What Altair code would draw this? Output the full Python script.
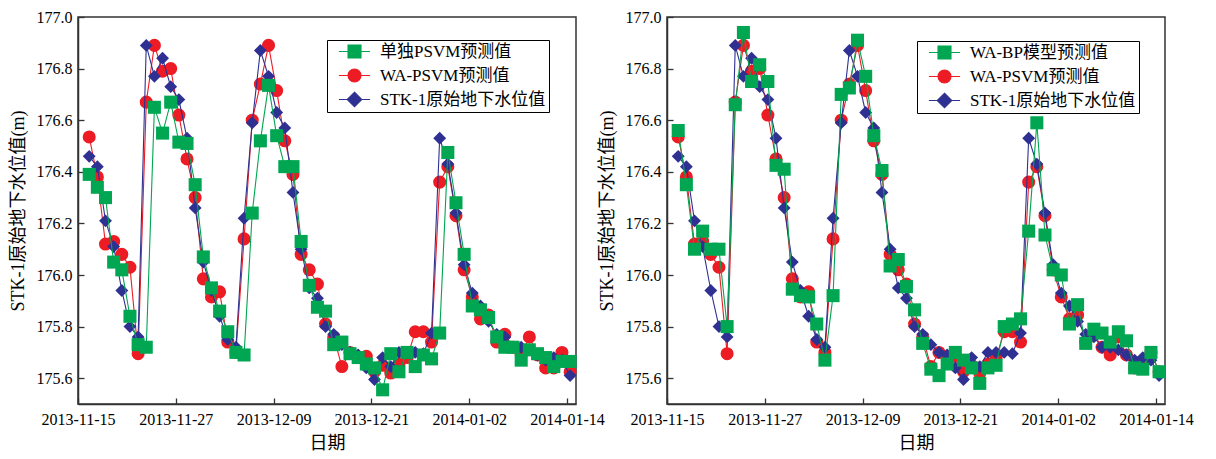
import altair as alt
import pandas as pd

# one reading per day, 2013-11-16 .. 2014-01-14
dates = pd.date_range("2013-11-16 09:00", periods=60, freq="D").strftime("%Y-%m-%dT%H:%M:%S").tolist()

observed = [176.46, 176.42, 176.21, 176.11, 175.94, 175.80, 175.76, 176.89, 176.77, 176.84,
            176.73, 176.68, 176.53, 176.26, 176.05, 175.94, 175.84, 175.75, 175.72, 176.22,
            176.59, 176.87, 176.77, 176.63, 176.57, 176.32, 176.10, 175.95, 175.91, 175.80,
            175.77, 175.73, 175.70, 175.69, 175.64, 175.595, 175.68, 175.645, 175.70, 175.70,
            175.70, 175.695, 175.775, 176.53, 176.43, 176.24, 176.04, 175.93, 175.88, 175.82,
            175.77, 175.76, 175.72, 175.72, 175.71, 175.69, 175.67, 175.68, 175.67, 175.61]

wa_psvm = [176.535, 176.38, 176.12, 176.13, 176.08, 176.03, 175.695, 176.67, 176.89, 176.79,
           176.80, 176.62, 176.45, 176.30, 175.985, 175.915, 175.935, 175.74, 175.70, 176.14,
           176.60, 176.74, 176.89, 176.715, 176.52, 176.39, 176.08, 176.02, 175.965, 175.81,
           175.76, 175.645, 175.70, 175.68, 175.685, 175.625, 175.65, 175.62, 175.655, 175.68,
           175.78, 175.78, 175.74, 176.36, 176.42, 176.23, 176.02, 175.915, 175.83, 175.845,
           175.74, 175.77, 175.72, 175.69, 175.76, 175.69, 175.64, 175.64, 175.70, 175.625]

psvm = [176.39, 176.34, 176.30, 176.05, 176.02, 175.84, 175.73, 175.72, 176.65, 176.55,
        176.67, 176.515, 176.51, 176.35, 176.07, 175.95, 175.86, 175.78, 175.70, 175.69,
        176.24, 176.52, 176.735, 176.54, 176.42, 176.42, 176.13, 175.96, 175.875, 175.86,
        175.73, 175.74, 175.695, 175.68, 175.655, 175.64, 175.555, 175.695, 175.625, 175.70,
        175.645, 175.69, 175.675, 175.775, 176.475, 176.28, 176.08, 175.88, 175.865, 175.835,
        175.76, 175.72, 175.72, 175.67, 175.71, 175.695, 175.68, 175.645, 175.665, 175.665]

wa_bp = [176.56, 176.35, 176.10, 176.17, 176.10, 176.10, 175.80, 176.66, 176.94, 176.75,
         176.815, 176.75, 176.425, 176.41, 175.945, 175.92, 175.915, 175.81, 175.67, 175.92,
         176.70, 176.725, 176.91, 176.77, 176.54, 176.405, 176.035, 176.06, 175.955, 175.865,
         175.735, 175.635, 175.61, 175.655, 175.70, 175.67, 175.64, 175.58, 175.64, 175.65,
         175.80, 175.81, 175.83, 176.17, 176.59, 176.155, 176.02, 176.00, 175.81, 175.885,
         175.735, 175.79, 175.775, 175.74, 175.78, 175.745, 175.64, 175.635, 175.70, 175.625]

name_obs = "STK-1原始地下水位值"
name_wa = "WA-PSVM预测值"
name_psvm = "单独PSVM预测值"
name_bp = "WA-BP模型预测值"

x_tick_labels = ["2013-11-15", "2013-11-27", "2013-12-09", "2013-12-21", "2014-01-02", "2014-01-14"]
y_ticks = [175.6, 175.8, 176.0, 176.2, 176.4, 176.6, 176.8, 177.0]

GREEN, RED, BLUE = "#00A651", "#ED1C24", "#2E3192"
FONT = "Liberation Serif, Noto Sans CJK SC"
W, H = 498, 387

# legend glyphs: a line segment with the marker on it (vega scales paths by sqrt(size)/2)
SQUARE_PATH = "M-2.4,0H2.4M-1,-1H1V1H-1Z"
CIRCLE_PATH = "M-2.4,0H2.4M1,0A1,1,0,1,1,-1,0A1,1,0,1,1,1,0Z"
DIAMOND_PATH = "M-2.4,0H2.4M0,-1.12L1.12,0L0,1.12L-1.12,0Z"


def dt(s, hours=0, minutes=0):
    y, m, d = map(int, s.split("-"))
    return alt.DateTime(year=y, month=m, date=d, hours=hours, minutes=minutes)


x_scale = alt.Scale(domain=[dt("2013-11-15"), dt("2014-01-15", 2, 24)])
y_scale = alt.Scale(domain=[175.5, 177.0])
x_ticks = [dt(s) for s in x_tick_labels]

x_main = alt.Axis(orient="bottom", values=x_ticks, format="%Y-%m-%d", ticks=False,
                  labelPadding=7, labelFlush=False, labelOverlap=False,
                  title="日期", titlePadding=7, domainWidth=1.5)
y_main = alt.Axis(orient="left", values=y_ticks, format=".1f", ticks=False,
                  labelPadding=6, labelFlush=False, labelOverlap=False,
                  title="STK-1原始地下水位值(m)", titlePadding=9, domainWidth=1.5)
x_inner = alt.Axis(orient="top", offset=-H, values=x_ticks, labels=False, domain=False,
                   ticks=True, tickSize=6, tickWidth=1.3, title=None, grid=False)
y_inner = alt.Axis(orient="right", offset=-W, values=y_ticks, labels=False, domain=False,
                   ticks=True, tickSize=6, tickWidth=1.3, title=None, grid=False)


def series(values, color, shape, size, x_axis_line=None, y_axis_line=None,
           x_axis_pts=None, y_axis_pts=None):
    df = pd.DataFrame({"date": dates, "value": values})
    base = alt.Chart(df)
    line = base.mark_line(color=color, strokeWidth=1.1).encode(
        x=alt.X("date:T", scale=x_scale, axis=x_axis_line),
        y=alt.Y("value:Q", scale=y_scale, axis=y_axis_line),
    )
    pts = base.mark_point(filled=True, shape=shape, size=size, color=color, opacity=1).encode(
        x=alt.X("date:T", scale=x_scale, axis=x_axis_pts),
        y=alt.Y("value:Q", scale=y_scale, axis=y_axis_pts),
    )
    return [line, pts]


def legend_layer(field, names, lx, ly):
    df = pd.DataFrame({field: names})
    leg = alt.Legend(title=None, orient="none", legendX=lx, legendY=ly,
                     strokeColor="black", fillColor="white", padding=3, rowPadding=5,
                     symbolSize=169, symbolStrokeWidth=1.1, symbolOpacity=1,
                     symbolOffset=16, labelOffset=17, labelLimit=400,
                     labelFont=FONT, labelFontSize=17, labelColor="black")
    colors = [GREEN, RED, BLUE]
    paths = [SQUARE_PATH, CIRCLE_PATH, DIAMOND_PATH]
    return alt.Chart(df).mark_point(filled=True, size=169, opacity=1, strokeWidth=1.1).encode(
        fill=alt.Fill(f"{field}:N", scale=alt.Scale(domain=names, range=colors), legend=leg),
        stroke=alt.Stroke(f"{field}:N", scale=alt.Scale(domain=names, range=colors), legend=leg),
        shape=alt.Shape(f"{field}:N", scale=alt.Scale(domain=names, range=paths), legend=leg),
    ).transform_filter("false")


def panel(model_values, model_name, field, lx, ly):
    layers = []
    layers += series(wa_psvm, RED, "circle", 170, x_main, y_main, x_inner, y_inner)
    layers += series(observed, BLUE, "diamond", 165)
    layers += series(model_values, GREEN, "square", 170)
    layers.append(legend_layer(field, [model_name, name_wa, name_obs], lx, ly))
    return alt.layer(*layers).resolve_axis(x="independent", y="independent").properties(
        width=W, height=H)


left = panel(psvm, name_psvm, "series_left", 249, 23)
right = panel(wa_bp, name_bp, "series_right", 250, 24)

chart = alt.hconcat(left, right, spacing=91, bounds="flush").resolve_scale(
    x="independent", y="independent", fill="independent", stroke="independent",
    shape="independent"
).properties(
    padding={"left": 0, "top": 0, "right": 5, "bottom": 0},
    background="white",
).configure_axis(
    labelFont=FONT, titleFont=FONT, labelFontSize=16, titleFontSize=18,
    labelColor="black", titleColor="black", domainColor="#333333", tickColor="#333333",
    titleFontWeight="normal", grid=False,
).configure_view(
    stroke="#333333", strokeWidth=1.5,
)

chart.save("out.html", embed_options={"renderer": "svg", "actions": False})
